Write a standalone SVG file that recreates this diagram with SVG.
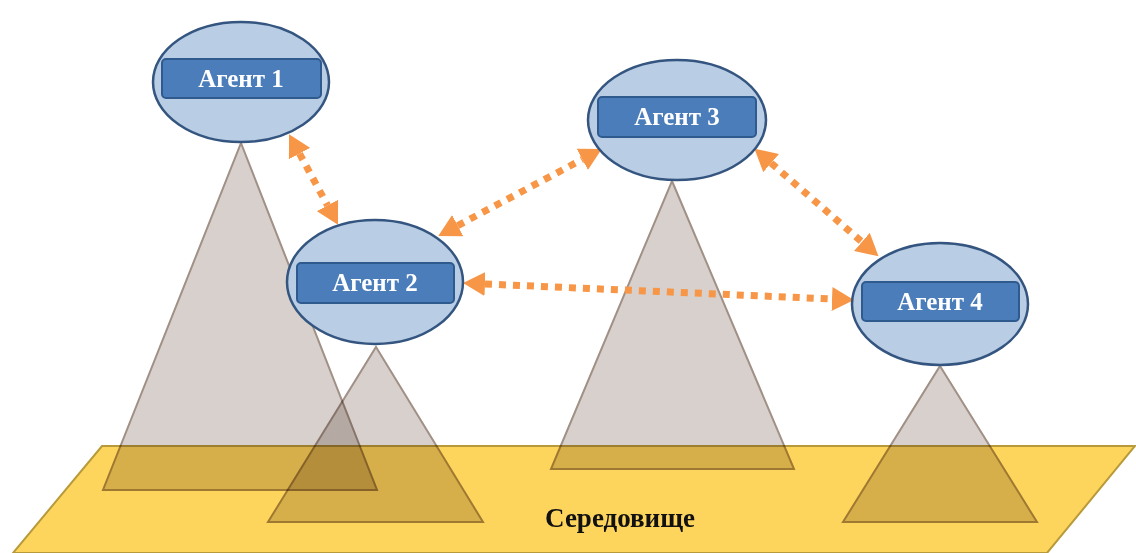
<svg xmlns="http://www.w3.org/2000/svg" width="1136" height="553" viewBox="0 0 1136 553">
<defs>
<style>
.ground{fill:#FED55C;stroke:#B89A3A;stroke-width:2}
.tri{fill:#D7D0CC;stroke:#A09086;stroke-width:2;mix-blend-mode:multiply}
.node ellipse{fill:#B9CDE5;stroke:#34557F;stroke-width:2.5}
.node rect{fill:#4A7DBA;stroke:#2F5A8E;stroke-width:2}
.node text{font-family:"Liberation Serif",serif;font-weight:bold;font-size:25px;fill:#ffffff;text-anchor:middle}
.link{fill:none;stroke:#F79646;stroke-width:7;stroke-dasharray:7 7}
.lbl{font-family:"Liberation Serif",serif;font-weight:bold;font-size:27px;fill:#111;text-anchor:middle}
</style>
<marker id="ah" markerUnits="userSpaceOnUse" markerWidth="23" markerHeight="25" refX="0" refY="12" orient="auto-start-reverse" viewBox="0 0 23 24">
<path d="M0,0 L22,12 L0,24 Z" fill="#F79646"/>
</marker>
</defs>
<rect width="1136" height="553" fill="#ffffff"/>
<polygon class="ground" points="102,446 1135,446 1047,553 13,553"/>
<text class="lbl" x="620" y="527">Середовище</text>
<g id="mountains">
<polygon class="tri" points="241,143 377,490 103,490"/>
<polygon class="tri" points="376,347 483,522 268,522"/>
<polygon class="tri" points="672,181 794,469 551,469"/>
<polygon class="tri" points="940,366 1037,522 843,522"/>
</g>
<g id="connectors">
<path class="link" d="M299.5,153.6 L327.5,205.4" marker-start="url(#ah)" marker-end="url(#ah)"/>
<path class="link" d="M457.7,225.6 L582.3,159.4" marker-start="url(#ah)" marker-end="url(#ah)"/>
<path class="link" d="M771.1,163.1 L861.9,241.9" marker-start="url(#ah)" marker-end="url(#ah)"/>
<path class="link" d="M485,284 L832,299" marker-start="url(#ah)" marker-end="url(#ah)"/>
</g>
<g id="agent1" class="node">
<ellipse cx="241" cy="82" rx="88" ry="60"/>
<rect x="162" y="59" width="159" height="39" rx="4"/>
<text x="241" y="87">Агент 1</text>
</g>
<g id="agent2" class="node">
<ellipse cx="375" cy="282" rx="88" ry="62"/>
<rect x="297" y="263" width="157" height="40" rx="4"/>
<text x="375" y="291">Агент 2</text>
</g>
<g id="agent3" class="node">
<ellipse cx="677" cy="120" rx="89" ry="60"/>
<rect x="598" y="97" width="158" height="40" rx="4"/>
<text x="677" y="125">Агент 3</text>
</g>
<g id="agent4" class="node">
<ellipse cx="940" cy="304" rx="88" ry="61"/>
<rect x="862" y="282" width="157" height="39" rx="4"/>
<text x="940" y="310">Агент 4</text>
</g>
</svg>
